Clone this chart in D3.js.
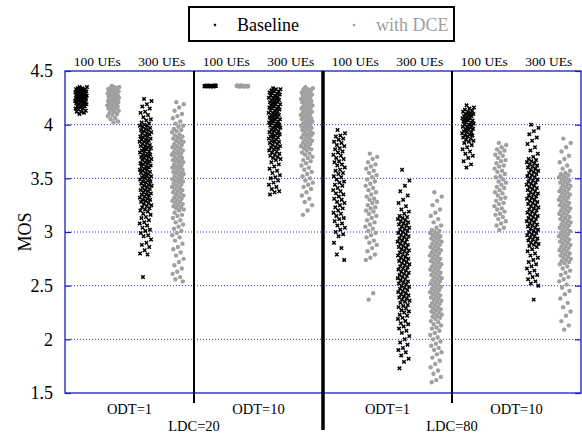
<!DOCTYPE html>
<html><head><meta charset="utf-8">
<script src="https://cdn.jsdelivr.net/npm/d3@7"></script>
<style>html,body{margin:0;padding:0;background:#fff;}svg{display:block;}</style>
</head><body>
<svg id="c" width="582" height="436"></svg>
<script>
// ---------- data ----------
const seriesNames = ["Baseline", "with DCE"];
const ueLabels = ["100 UEs", "300 UEs"];
const odtLabels = ["ODT=1", "ODT=10", "ODT=1", "ODT=10"];
const ldcLabels = ["LDC=20", "LDC=80"];
const yTicks = [1.5, 2, 2.5, 3, 3.5, 4, 4.5];
const gridValues = [2, 2.5, 3, 3.5, 4];

// LDC=20, ODT=1
const base_L20_O1_U100 = [4.35,4.35,4.34,4.34,4.33,4.33,4.33,4.32,4.32,4.31,4.31,4.31,4.30,4.30,4.30,4.29,4.29,4.29,4.28,4.28,4.28,4.27,4.27,4.27,4.26,4.26,4.26,4.25,4.25,4.25,4.24,4.24,4.24,4.23,4.23,4.22,4.22,4.22,4.21,4.21,4.20,4.20,4.19,4.19,4.18,4.17,4.17,4.16,4.15,4.15,4.14,4.13,4.12,4.12,4.11,4.10];
const dce_L20_O1_U100 = [4.36,4.35,4.35,4.34,4.34,4.33,4.33,4.32,4.32,4.31,4.31,4.30,4.30,4.29,4.29,4.28,4.28,4.27,4.27,4.26,4.26,4.25,4.25,4.24,4.24,4.23,4.23,4.22,4.22,4.21,4.21,4.20,4.20,4.19,4.19,4.18,4.18,4.17,4.17,4.16,4.15,4.15,4.14,4.13,4.12,4.11,4.10,4.09,4.08,4.06,4.05,4.03,4.02];
const base_L20_O1_U300 = [4.24,4.22,4.19,4.17,4.15,4.12,4.11,4.09,4.07,4.05,4.04,4.02,4.01,4.00,3.99,3.99,3.98,3.97,3.96,3.95,3.95,3.94,3.93,3.92,3.92,3.91,3.90,3.89,3.89,3.88,3.87,3.86,3.86,3.85,3.84,3.84,3.83,3.82,3.81,3.80,3.80,3.79,3.78,3.78,3.77,3.76,3.75,3.75,3.74,3.73,3.72,3.72,3.71,3.70,3.70,3.69,3.68,3.67,3.67,3.66,3.65,3.64,3.64,3.63,3.62,3.61,3.61,3.60,3.59,3.58,3.58,3.57,3.56,3.55,3.55,3.54,3.53,3.52,3.52,3.51,3.50,3.50,3.49,3.48,3.47,3.47,3.46,3.45,3.44,3.43,3.43,3.42,3.41,3.40,3.39,3.39,3.38,3.37,3.36,3.35,3.35,3.34,3.33,3.32,3.31,3.30,3.30,3.29,3.28,3.27,3.26,3.25,3.24,3.23,3.22,3.21,3.20,3.19,3.17,3.16,3.14,3.13,3.11,3.09,3.08,3.06,3.04,3.02,3.01,2.99,2.97,2.96,2.93,2.90,2.88,2.86,2.83,2.80,2.79,2.58];
const dce_L20_O1_U300 = [4.21,4.19,4.16,4.13,4.10,4.08,4.06,4.03,4.01,3.99,3.98,3.96,3.95,3.94,3.93,3.91,3.90,3.89,3.88,3.87,3.86,3.85,3.84,3.83,3.82,3.81,3.80,3.79,3.78,3.77,3.76,3.75,3.74,3.73,3.73,3.72,3.71,3.70,3.69,3.68,3.67,3.66,3.66,3.65,3.64,3.63,3.62,3.61,3.60,3.60,3.59,3.58,3.57,3.56,3.55,3.55,3.54,3.53,3.52,3.51,3.50,3.49,3.48,3.48,3.47,3.46,3.45,3.44,3.43,3.42,3.41,3.40,3.39,3.38,3.37,3.36,3.35,3.34,3.33,3.32,3.31,3.30,3.29,3.28,3.27,3.26,3.25,3.24,3.23,3.22,3.21,3.20,3.18,3.16,3.15,3.13,3.11,3.09,3.07,3.05,3.03,3.01,2.99,2.97,2.95,2.92,2.89,2.86,2.84,2.81,2.78,2.75,2.72,2.69,2.66,2.63,2.61,2.58,2.56,2.54];
// LDC=20, ODT=10
const base_L20_O10_U100 = [4.36,4.36,4.36,4.36,4.365,4.36,4.355,4.36,4.36,4.365,4.36,4.36,4.355,4.36,4.36,4.36,4.365,4.36,4.355,4.36,4.36,4.36];
const dce_L20_O10_U100 = [4.36,4.36,4.355,4.36,4.36,4.36,4.365,4.36,4.36,4.355,4.36,4.36,4.36,4.365,4.36,4.36,4.355,4.36,4.36,4.36];
const base_L20_O10_U300 = [4.34,4.33,4.33,4.32,4.31,4.31,4.30,4.29,4.29,4.28,4.27,4.27,4.26,4.25,4.25,4.24,4.23,4.23,4.22,4.21,4.21,4.20,4.19,4.19,4.18,4.17,4.17,4.16,4.15,4.15,4.14,4.13,4.13,4.12,4.11,4.11,4.10,4.09,4.09,4.08,4.07,4.07,4.06,4.05,4.05,4.04,4.03,4.03,4.02,4.01,4.01,4.00,3.99,3.99,3.98,3.97,3.97,3.96,3.95,3.94,3.94,3.93,3.92,3.91,3.91,3.90,3.89,3.88,3.88,3.87,3.86,3.85,3.84,3.84,3.83,3.82,3.81,3.80,3.79,3.79,3.78,3.77,3.76,3.75,3.74,3.73,3.72,3.71,3.70,3.69,3.68,3.67,3.65,3.63,3.61,3.59,3.57,3.55,3.53,3.51,3.50,3.48,3.46,3.44,3.42,3.40,3.38,3.37,3.35];
const dce_L20_O10_U300 = [4.35,4.34,4.33,4.33,4.32,4.31,4.30,4.30,4.29,4.28,4.27,4.27,4.26,4.25,4.24,4.24,4.23,4.22,4.21,4.21,4.20,4.19,4.18,4.18,4.17,4.16,4.15,4.15,4.14,4.13,4.12,4.12,4.11,4.10,4.09,4.09,4.08,4.07,4.06,4.06,4.05,4.04,4.03,4.03,4.02,4.01,4.00,4.00,3.99,3.98,3.97,3.97,3.96,3.95,3.94,3.93,3.92,3.91,3.91,3.90,3.89,3.88,3.87,3.86,3.85,3.84,3.83,3.82,3.81,3.80,3.79,3.78,3.77,3.76,3.74,3.73,3.72,3.70,3.69,3.67,3.66,3.64,3.62,3.60,3.58,3.56,3.54,3.52,3.50,3.48,3.46,3.44,3.42,3.40,3.37,3.34,3.31,3.28,3.25,3.20,3.16];
// LDC=80, ODT=1
const base_L80_O1_U100 = [3.95,3.92,3.90,3.89,3.87,3.86,3.84,3.83,3.81,3.80,3.78,3.77,3.75,3.74,3.72,3.71,3.69,3.68,3.66,3.65,3.63,3.62,3.60,3.58,3.57,3.55,3.54,3.52,3.51,3.49,3.47,3.46,3.44,3.43,3.41,3.39,3.38,3.36,3.35,3.33,3.31,3.30,3.28,3.27,3.25,3.23,3.22,3.20,3.18,3.17,3.15,3.13,3.12,3.10,3.08,3.06,3.04,3.02,3.00,2.98,2.96,2.90,2.85,2.79,2.74];
const dce_L80_O1_U100 = [3.73,3.70,3.68,3.65,3.63,3.61,3.59,3.57,3.55,3.53,3.51,3.49,3.47,3.45,3.43,3.41,3.39,3.37,3.35,3.33,3.31,3.30,3.28,3.27,3.25,3.23,3.22,3.20,3.19,3.17,3.15,3.13,3.11,3.09,3.07,3.05,3.03,3.01,2.99,2.97,2.95,2.92,2.90,2.88,2.85,2.82,2.79,2.76,2.74,2.43,2.37];
const base_L80_O1_U300 = [3.58,3.48,3.43,3.38,3.34,3.30,3.27,3.24,3.21,3.19,3.17,3.15,3.14,3.13,3.12,3.11,3.10,3.09,3.08,3.07,3.06,3.05,3.04,3.03,3.02,3.01,3.00,2.99,2.98,2.97,2.96,2.95,2.94,2.93,2.92,2.91,2.90,2.89,2.88,2.87,2.86,2.85,2.84,2.83,2.82,2.81,2.80,2.79,2.78,2.77,2.76,2.75,2.74,2.73,2.72,2.71,2.70,2.69,2.68,2.67,2.66,2.65,2.64,2.63,2.62,2.61,2.60,2.59,2.58,2.57,2.56,2.55,2.54,2.53,2.52,2.51,2.50,2.49,2.48,2.47,2.46,2.45,2.44,2.43,2.42,2.41,2.40,2.39,2.38,2.37,2.36,2.35,2.34,2.32,2.31,2.30,2.29,2.27,2.26,2.25,2.23,2.22,2.20,2.19,2.17,2.15,2.14,2.12,2.10,2.08,2.06,2.03,2.00,1.97,1.95,1.92,1.90,1.88,1.85,1.82,1.79,1.73];
const dce_L80_O1_U300 = [3.37,3.33,3.29,3.25,3.21,3.18,3.15,3.12,3.09,3.06,3.04,3.02,3.01,3.00,2.99,2.98,2.97,2.96,2.95,2.94,2.93,2.92,2.91,2.90,2.89,2.88,2.87,2.86,2.85,2.84,2.83,2.82,2.81,2.80,2.79,2.78,2.77,2.76,2.75,2.74,2.73,2.72,2.71,2.70,2.69,2.68,2.67,2.66,2.65,2.64,2.63,2.62,2.61,2.60,2.59,2.58,2.57,2.56,2.55,2.54,2.53,2.52,2.51,2.50,2.49,2.48,2.47,2.46,2.45,2.44,2.43,2.42,2.41,2.40,2.39,2.38,2.37,2.36,2.35,2.34,2.33,2.32,2.31,2.30,2.29,2.28,2.27,2.26,2.25,2.24,2.23,2.22,2.21,2.20,2.19,2.17,2.16,2.14,2.13,2.11,2.10,2.08,2.06,2.04,2.02,2.00,1.98,1.96,1.94,1.92,1.90,1.88,1.86,1.83,1.80,1.77,1.74,1.71,1.68,1.65,1.62,1.60];
// LDC=80, ODT=10
const base_L80_O10_U100 = [4.18,4.16,4.15,4.14,4.13,4.12,4.12,4.11,4.10,4.10,4.09,4.08,4.08,4.07,4.06,4.06,4.05,4.04,4.04,4.03,4.02,4.02,4.01,4.00,4.00,3.99,3.98,3.98,3.97,3.96,3.96,3.95,3.94,3.93,3.93,3.92,3.91,3.90,3.90,3.89,3.88,3.87,3.86,3.85,3.84,3.83,3.81,3.79,3.77,3.75,3.73,3.71,3.69,3.66,3.63,3.60];
const dce_L80_O10_U100 = [3.83,3.81,3.79,3.77,3.76,3.74,3.72,3.71,3.69,3.67,3.66,3.64,3.62,3.61,3.59,3.57,3.56,3.54,3.52,3.51,3.49,3.47,3.46,3.44,3.42,3.41,3.39,3.37,3.36,3.34,3.32,3.31,3.29,3.27,3.26,3.24,3.22,3.21,3.19,3.17,3.16,3.14,3.12,3.10,3.08,3.06,3.04,3.02];
const base_L80_O10_U300 = [4.00,3.97,3.94,3.91,3.88,3.85,3.82,3.79,3.76,3.73,3.70,3.68,3.67,3.66,3.65,3.64,3.63,3.62,3.61,3.60,3.59,3.58,3.57,3.56,3.55,3.54,3.53,3.52,3.51,3.50,3.49,3.48,3.47,3.46,3.45,3.44,3.43,3.42,3.41,3.40,3.39,3.38,3.37,3.36,3.35,3.34,3.33,3.32,3.31,3.30,3.29,3.28,3.27,3.26,3.25,3.24,3.23,3.22,3.21,3.20,3.19,3.18,3.17,3.16,3.15,3.14,3.13,3.12,3.11,3.10,3.09,3.08,3.07,3.06,3.05,3.04,3.03,3.02,3.01,3.00,2.99,2.98,2.97,2.96,2.95,2.94,2.93,2.92,2.91,2.90,2.89,2.88,2.87,2.86,2.84,2.82,2.80,2.78,2.76,2.74,2.72,2.70,2.68,2.66,2.64,2.62,2.60,2.58,2.56,2.54,2.52,2.50,2.37];
const dce_L80_O10_U300 = [3.87,3.83,3.79,3.75,3.71,3.68,3.65,3.62,3.59,3.57,3.55,3.54,3.53,3.52,3.51,3.50,3.49,3.48,3.47,3.46,3.45,3.44,3.43,3.42,3.41,3.40,3.39,3.38,3.37,3.36,3.35,3.34,3.33,3.32,3.31,3.30,3.29,3.28,3.27,3.26,3.25,3.24,3.23,3.22,3.21,3.20,3.19,3.18,3.17,3.16,3.15,3.14,3.13,3.12,3.11,3.10,3.09,3.08,3.07,3.06,3.05,3.04,3.03,3.02,3.01,3.00,2.99,2.98,2.97,2.96,2.95,2.94,2.93,2.92,2.91,2.90,2.89,2.88,2.87,2.86,2.85,2.84,2.83,2.82,2.81,2.80,2.79,2.78,2.77,2.76,2.75,2.74,2.73,2.72,2.71,2.70,2.68,2.66,2.64,2.62,2.60,2.58,2.56,2.54,2.51,2.48,2.45,2.42,2.38,2.34,2.30,2.26,2.22,2.17,2.13,2.09];

// strips in left-to-right order: [series index, values]
const strips = [
  [0, base_L20_O1_U100], [1, dce_L20_O1_U100], [0, base_L20_O1_U300], [1, dce_L20_O1_U300],
  [0, base_L20_O10_U100], [1, dce_L20_O10_U100], [0, base_L20_O10_U300], [1, dce_L20_O10_U300],
  [0, base_L80_O1_U100], [1, dce_L80_O1_U100], [0, base_L80_O1_U300], [1, dce_L80_O1_U300],
  [0, base_L80_O10_U100], [1, dce_L80_O10_U100], [0, base_L80_O10_U300], [1, dce_L80_O10_U300]
];

// ---------- drawing ----------
const FONT = '"Liberation Serif", "Times New Roman", Times, serif';
const svg = d3.select("#c");
const root = svg.append("g").style("font-family", FONT);
const L = 65, R = 581, T = 71, B = 393;
const x = d3.scaleLinear().domain([0, 16]).range([L, R]);
const y = d3.scaleLinear().domain([1.5, 4.5]).range([B, T]);
const blue = "#1a1acc", grey = "#a0a0a0";

// grid
root.append("g").selectAll("line").data(gridValues).join("line")
  .attr("x1", L).attr("x2", R).attr("y1", d => y(d)).attr("y2", d => y(d))
  .attr("stroke", "#3030e8").attr("stroke-width", 1).attr("stroke-dasharray", "1,2");

// y axis (left) with labels
const yAxis = d3.axisLeft(y).tickValues(yTicks).tickSize(-6).tickPadding(12).tickFormat(d3.format("~g"));
const gy = root.append("g").attr("transform", `translate(${L},0)`).call(yAxis);
gy.attr("font-family", null);
gy.select(".domain").remove();
gy.selectAll("line").attr("stroke", blue).attr("stroke-width", 1.2);
gy.selectAll("text").style("font-family", FONT).attr("font-size", 18).attr("fill", "#000");
// right ticks
const gyr = root.append("g").attr("transform", `translate(${R},0)`).call(d3.axisRight(y).tickValues(yTicks).tickSize(-6).tickFormat(""));
gyr.select(".domain").remove();
gyr.selectAll("line").attr("stroke", blue).attr("stroke-width", 1.2);

// frame
root.append("rect").attr("x", L).attr("y", T).attr("width", R - L).attr("height", B - T)
  .attr("fill", "none").attr("stroke", blue).attr("stroke-width", 1.3);

// points
const jit = i => ((i * 0.6180339887 + 0.37) % 1) - 0.5;
strips.forEach(([s, vals], k) => {
  const cx = x(k + 0.5);
  const g = root.append("g");
  if (s === 0) {
    g.selectAll("path").data(vals).join("path")
      .attr("transform", (d, i) => `translate(${cx + jit(i) * 12},${y(d)})`)
      .attr("d", "M-1.7,-1.7L1.7,1.7M-1.7,1.7L1.7,-1.7")
      .attr("stroke", "#000").attr("stroke-width", 1.5).attr("fill", "none");
  } else {
    g.selectAll("circle").data(vals).join("circle")
      .attr("cx", (d, i) => cx + jit(i) * 12).attr("cy", d => y(d))
      .attr("r", 2.2).attr("fill", grey);
  }
});

// dividers
[4, 8, 12].forEach(v => {
  const thick = v === 8;
  root.append("line").attr("x1", x(v)).attr("x2", x(v)).attr("y1", T).attr("y2", thick ? 430 : 403)
    .attr("stroke", "#000").attr("stroke-width", thick ? 3.5 : 2);
});

// top UE labels
const topLab = [];
for (let g = 0; g < 4; g++) ueLabels.forEach((t, j) => topLab.push({ t, pos: g * 4 + j * 2 + 1 }));
root.append("g").selectAll("text").data(topLab).join("text")
  .attr("x", d => x(d.pos)).attr("y", 66).attr("text-anchor", "middle")
  .style("font-family", FONT).attr("font-size", 13.5).text(d => d.t);

// bottom labels
root.append("g").selectAll("text").data(odtLabels).join("text")
  .attr("x", (d, i) => x(i * 4 + 2)).attr("y", 414).attr("text-anchor", "middle")
  .style("font-family", FONT).attr("font-size", 14.5).text(d => d);
root.append("g").selectAll("text").data(ldcLabels).join("text")
  .attr("x", (d, i) => x(i * 8 + 4)).attr("y", 431).attr("text-anchor", "middle")
  .style("font-family", FONT).attr("font-size", 14.5).text(d => d);

// MOS label
root.append("text").attr("transform", `translate(31,${(T + B) / 2}) rotate(-90)`)
  .attr("text-anchor", "middle").style("font-family", FONT).attr("font-size", 18).text("MOS");

// legend
const lg = root.append("g");
lg.append("rect").attr("x", 189).attr("y", 7).attr("width", 265).attr("height", 34)
  .attr("fill", "#fff").attr("stroke", "#000").attr("stroke-width", 2);
lg.append("path").attr("transform", "translate(215,25)").attr("d", "M-1,-1L1,1M-1,1L1,-1")
  .attr("stroke", "#000").attr("stroke-width", 1.2);
lg.append("text").attr("x", 237).attr("y", 30.5).style("font-family", FONT).attr("font-size", 18).text(seriesNames[0]);
lg.append("circle").attr("cx", 354).attr("cy", 25).attr("r", 1.3).attr("fill", grey);
lg.append("text").attr("x", 376).attr("y", 30.5).style("font-family", FONT).attr("font-size", 18).attr("fill", grey).text(seriesNames[1]);
</script>
</body></html>
